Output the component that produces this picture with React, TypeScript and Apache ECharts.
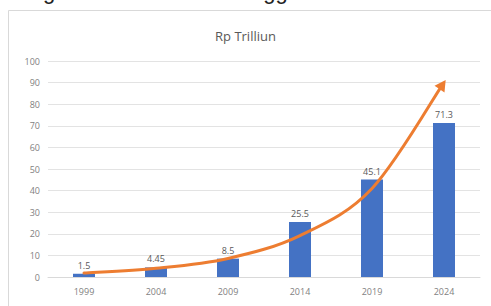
import React, { useEffect, useRef } from "react";
import * as echarts from "echarts";

const categories = ["1999", "2004", "2009", "2014", "2019", "2024"];
const values = [1.5, 4.45, 8.5, 25.5, 45.1, 71.3];
const valueLabels = ["1.5", "4.45", "8.5", "25.5", "45.1", "71.3"];
const trend = [1.8, 4.0, 8.6, 19.2, 41, 90];
const yTicks = { min: 0, max: 100, interval: 10 };

export default function App() {
  const ref = useRef<HTMLDivElement>(null);
  useEffect(() => {
    document.body.style.margin = "0";
    const chart = echarts.init(ref.current!, null, { renderer: "svg" });
    const renderTrend = (params: any, api: any) => {
      if (params.dataIndex !== 0) return { type: "group", children: [] };
      const pts = trend.map((v, i) => api.coord([i, v]) as number[]);
      const n = pts.length;
      const P = (i: number) => pts[Math.max(0, Math.min(n - 1, i))];
      // arrow geometry
      const a = P(n - 2), b = P(n - 1);
      let dx = b[0] - a[0], dy = b[1] - a[1];
      const len = Math.hypot(dx, dy);
      dx /= len; dy /= len;
      const tip = [b[0] + dx * 3, b[1] + dy * 3];
      const headLen = 11, headW = 6;
      const base = [tip[0] - dx * headLen, tip[1] - dy * headLen];
      const px = -dy, py = dx;
      let d = `M${pts[0][0]},${pts[0][1]}`;
      for (let i = 0; i < n - 1; i++) {
        const p0 = P(i - 1), p1 = P(i), p2 = P(i + 1), p3 = P(i + 2);
        const end = i === n - 2 ? [base[0] + dx * 2, base[1] + dy * 2] : p2;
        const c1 = [p1[0] + (p2[0] - p0[0]) / 6, p1[1] + (p2[1] - p0[1]) / 6];
        const c2 = [p2[0] - (p3[0] - p1[0]) / 6, p2[1] - (p3[1] - p1[1]) / 6];
        d += ` C${c1[0]},${c1[1]} ${c2[0]},${c2[1]} ${end[0]},${end[1]}`;
      }
      return {
        type: "group",
        children: [
          {
            type: "path",
            shape: { pathData: d },
            style: { fill: "none", stroke: "#ED7D31", lineWidth: 3, lineCap: "round" },
          },
          {
            type: "polygon",
            shape: {
              points: [
                tip,
                [base[0] + px * headW, base[1] + py * headW],
                [base[0] - px * headW, base[1] - py * headW],
              ],
            },
            style: { fill: "#ED7D31" },
          },
        ],
      };
    };
    chart.setOption({
      animation: false,
      backgroundColor: "#ffffff",
      title: {
        text: "Rp Trilliun",
        left: "center",
        top: 24,
        textStyle: { fontFamily: "Open Sans", fontSize: 13, fontWeight: "normal", color: "#595959" },
      },
      graphic: [
        {
          type: "rect",
          shape: { x: 8.5, y: 10.5, width: 520, height: 320 },
          style: { fill: "none", stroke: "#d9d9d9", lineWidth: 1 },
          z: -1,
        },
        {
          type: "text",
          left: 10,
          top: -20,
          style: {
            text: "Diagram Pertumbuhan Anggaran Pendidikan",
            fontFamily: "Liberation Sans",
            fontSize: 22,
            fill: "#222222",
          },
        },
      ],
      grid: { left: 48, right: 11, top: 61, bottom: 29 },
      xAxis: {
        type: "category",
        data: categories,
        axisLine: { lineStyle: { color: "#d9d9d9" } },
        axisTick: { show: false },
        axisLabel: { color: "#7f7f7f", fontSize: 9, margin: 10, fontFamily: "Open Sans" },
      },
      yAxis: {
        type: "value",
        min: yTicks.min,
        max: yTicks.max,
        interval: yTicks.interval,
        axisLine: { show: false },
        axisTick: { show: false },
        splitLine: { lineStyle: { color: "#e3e3e3" } },
        axisLabel: { color: "#7f7f7f", fontSize: 9, margin: 8, fontFamily: "Open Sans" },
      },
      series: [
        {
          type: "bar",
          data: values,
          barWidth: 22,
          itemStyle: { color: "#4472C4" },
          label: {
            show: true,
            position: "top",
            distance: 4,
            color: "#595959",
            fontSize: 9,
            fontFamily: "Open Sans",
            formatter: (p: any) => valueLabels[p.dataIndex],
          },
        },
        {
          type: "custom",
          renderItem: renderTrend,
          data: trend.map((v, i) => [i, v]),
          encode: { x: 0, y: 1 },
          z: 3,
        },
      ],
    });
    return () => chart.dispose();
  }, []);
  return <div ref={ref} style={{ position: "absolute", left: 0, top: 0, width: 491, height: 306 }} />;
}
